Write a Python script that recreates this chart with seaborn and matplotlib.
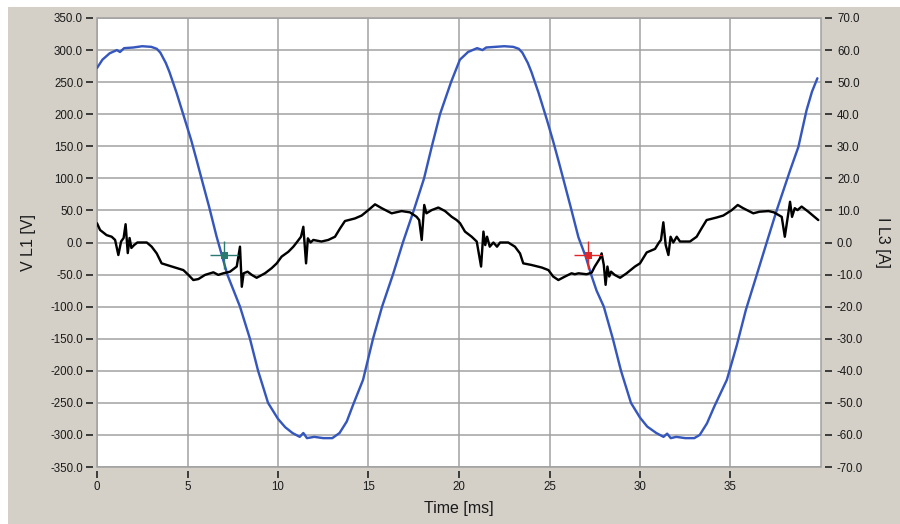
import numpy as np
import pandas as pd
import matplotlib
matplotlib.use("Agg")
import matplotlib.pyplot as plt
import seaborn as sns
from matplotlib.patches import Rectangle
from matplotlib.ticker import FormatStrFormatter

# Voltage L1 [V] versus time [ms]
volt_time = [0, 0.3, 0.7, 1.1, 1.27, 1.5, 2.0, 2.5, 3.0, 3.3, 3.5, 3.8, 4.0, 4.4, 4.86,
             5.2, 5.5, 5.8, 6.2, 6.6, 6.9, 7.2, 7.55, 7.9, 8.45, 8.9, 9.45, 10.0, 10.4,
             10.8, 11.2, 11.4, 11.6, 12.0, 12.5, 13.0, 13.4, 13.8, 14.15, 14.7, 15.25,
             15.75, 16.35, 16.9, 17.5, 18.07, 18.5, 18.95, 19.56, 20.05, 20.5, 21.0,
             21.3, 21.5, 22.0, 22.5, 23.0, 23.3, 23.5, 23.8, 24.0, 24.4, 24.86, 25.2,
             25.5, 25.8, 26.2, 26.6, 27.0, 27.3, 27.6, 28.0, 28.5, 28.95, 29.5, 30.0,
             30.4, 30.9, 31.3, 31.5, 31.7, 32.0, 32.5, 33.0, 33.3, 33.7, 34.1, 34.8,
             35.35, 35.85, 36.4, 37.0, 37.55, 38.3, 38.75, 39.2, 39.5, 39.8]
volt_val = [272, 285, 295, 300, 297, 303, 304, 306, 305, 302, 296, 280, 266, 233, 191,
            160, 129, 97, 55, 10, -20, -50, -75, -100, -150, -200, -250, -275, -288,
            -297, -303, -297, -305, -303, -305, -305, -297, -279, -253, -214, -150,
            -100, -50, 0, 50, 100, 150, 200, 250, 285, 297, 303,
            300, 304, 305, 306, 305, 302, 296, 280, 266, 233, 191, 158,
            127, 95, 52, 8, -22, -50, -75, -100, -150, -200, -250, -273,
            -287, -297, -303, -298, -305, -303, -305, -305, -300, -282, -256, -214,
            -160, -105, -55, 0, 50, 113, 149, 206, 235, 256]

# Current L3 [A] versus time [ms]
curr_time = [0, 0.17, 0.53, 0.81, 1.0, 1.18, 1.33, 1.47, 1.58, 1.7, 1.8, 1.9, 2.05, 2.23,
             2.75, 3.02, 3.3, 3.57, 3.85, 4.31, 4.77, 5.05, 5.32, 5.6, 5.97, 6.43, 6.7,
             6.98, 7.35, 7.72, 7.9, 8.0, 8.1, 8.32, 8.55, 8.82, 9.28, 9.65, 9.93, 10.2,
             10.57, 10.85, 11.03, 11.27, 11.4, 11.55, 11.65, 11.8, 11.95, 12.4, 12.78,
             13.15, 13.43, 13.7, 14.25, 14.62, 14.99, 15.36, 15.73, 16.28, 16.83, 17.29,
             17.66, 17.8, 17.94, 18.08, 18.2, 18.49, 18.86, 19.23, 19.6, 19.87, 20.06,
             20.33, 20.7, 20.98, 21.22, 21.35, 21.45, 21.55, 21.7, 21.9, 22.1, 22.27,
             22.72, 23.09, 23.37, 23.55, 24.0, 24.57, 24.94, 25.2, 25.49, 25.86, 26.22,
             26.4, 26.6, 27.05, 27.33, 27.5, 27.79, 27.88, 28.0, 28.1, 28.2, 28.3, 28.4,
             28.6, 28.9, 29.26, 29.72, 30.0, 30.37, 30.83, 31.05, 31.16, 31.29, 31.42,
             31.57, 31.69, 31.84, 32.03, 32.21, 32.76, 33.13, 33.4, 33.68, 34.24, 34.6,
             35.07, 35.4, 35.7, 36.26, 36.6, 37.1, 37.4, 37.83, 38.0, 38.15, 38.29, 38.4,
             38.55, 38.7, 38.93, 39.3, 39.85]
curr_val = [6.0, 3.9, 2.3, 1.8, 0.8, -3.9, 0.3, 1.4, 5.7, -3.3, 1.4, -1.7, -0.8, 0.0,
            0.0, -1.3, -3.4, -6.5, -7.0, -7.8, -8.6, -10.1, -11.7, -11.4, -10.1, -9.3, -10.1,
            -9.6, -9.1, -7.5, -1.3, -13.8, -9.6, -9.1, -10.1, -11.0, -9.6, -8.0, -6.5, -4.4,
            -2.9, -1.3, 0.0, 1.8, 4.9, -6.5, 1.3, 0.0, 0.8, 0.3, 0.8,
            1.8, 4.4, 6.7, 7.5, 8.4, 10.1, 11.9, 10.7, 9.1, 9.8, 9.4,
            8.0, 7.0, 0.8, 11.7, 9.1, 10.1, 10.9, 9.8, 8.0, 7.0, 6.0,
            3.4, 1.8, 0.3, -7.5, 3.4, -0.8, 1.8, -1.3, 0.0, -1.3, 0.0,
            0.0, -1.3, -3.4, -6.5, -7.0, -7.8, -8.6, -10.6, -11.7, -10.6, -9.6,
            -9.9, -9.6, -9.9, -9.4, -7.5, -4.9, -3.4, -7.0, -13.2, -7.5, -10.6, -9.1,
            -10.1, -11.0, -9.6, -7.5, -6.5, -3.1, -2.0, 0.0, 0.8, 6.3, -0.8,
            -3.9, 1.8, 0.0, 1.8, 0.3, 0.3, 1.8, 4.4, 7.0, 7.8, 8.4,
            10.1, 11.7, 10.7, 9.1, 9.6, 9.8, 9.4, 8.0, 1.8, 7.5, 12.7, 8.0,
            10.7, 10.1, 11.2, 9.6, 7.0]

# Cursor positions (time [ms], voltage [V])
cursor_time = [7.0, 27.1]
cursor_volt = [-20, -20]
cursor_colors = ["#2b7a72", "#e02828"]

x_ticks = [0, 5, 10, 15, 20, 25, 30, 35]
v_ticks = list(range(-350, 351, 50))
i_ticks = list(range(-70, 71, 10))

volt_df = pd.DataFrame({"Time [ms]": volt_time, "V L1 [V]": volt_val})
curr_df = pd.DataFrame({"Time [ms]": curr_time, "I L3 [A]": curr_val})

sns.set_theme(style="white")
plt.rcParams["font.family"] = ["Liberation Sans", "DejaVu Sans"]

W, H = 900, 524
fig = plt.figure(figsize=(W / 100, H / 100), dpi=100, facecolor="white")
fig.patches.append(Rectangle((8 / W, 0), 1 - 8 / W, 1 - 7 / H, transform=fig.transFigure,
                             facecolor="#d4d0c8", edgecolor="none", zorder=-10))

left, right, top, bottom = 97, 821, 18, 467
ax = fig.add_axes([left / W, 1 - bottom / H, (right - left) / W, (bottom - top) / H])
ax.set_facecolor("white")

grid_c = "#a0a0a0"
tick_c = "#1a1a1a"
px = 72 / 100  # one pixel in points

sns.lineplot(data=volt_df, x="Time [ms]", y="V L1 [V]", ax=ax, color="#3557bd",
             linewidth=2.4 * px, estimator=None, sort=False, legend=False, zorder=3)

ax.set_xlim(0, 40)
ax.set_ylim(-350, 350)
ax.set_xticks(x_ticks)
ax.set_yticks(v_ticks)
ax.yaxis.set_major_formatter(FormatStrFormatter("%.1f"))
ax.grid(True, color=grid_c, linewidth=1.5 * px)
ax.set_axisbelow(True)
for s in ax.spines.values():
    s.set_visible(False)
ax.spines["left"].set_position(("outward", 4 * px))
ax.spines["bottom"].set_position(("outward", 4 * px))
ax.tick_params(axis="both", direction="out", length=7 * px, width=1.6 * px,
               color=tick_c, labelcolor=tick_c, labelsize=8.3, pad=3 * px)
ax.tick_params(axis="y", left=True, right=False)
ax.tick_params(axis="x", bottom=True, top=False)

ax.add_patch(Rectangle((0, 0), 1, 1, transform=ax.transAxes, fill=False,
                       edgecolor=grid_c, linewidth=1.5 * px, clip_on=False, zorder=2))

ax.set_xlabel("Time [ms]", fontsize=11.5, color=tick_c, va="center")
ax.xaxis.set_label_coords(0.5, (bottom - 509) / (bottom - top))
ax.set_ylabel("V L1 [V]", fontsize=11.5, color=tick_c, va="center")
ax.yaxis.set_label_coords((28 - left) / (right - left), 0.5)

ax2 = ax.twinx()
ax2.set_facecolor("none")
sns.lineplot(data=curr_df, x="Time [ms]", y="I L3 [A]", ax=ax2, color="black",
             linewidth=2.4 * px, estimator=None, sort=False, legend=False, zorder=3)
ax2.set_xlim(0, 40)
ax2.set_ylim(-70, 70)
ax2.set_yticks(i_ticks)
ax2.yaxis.set_major_formatter(FormatStrFormatter("%.1f"))
ax2.grid(False)
for s in ax2.spines.values():
    s.set_visible(False)
ax2.spines["right"].set_position(("outward", 4 * px))
ax2.tick_params(axis="y", direction="out", length=7 * px, width=1.6 * px, right=True,
                left=False, color=tick_c, labelcolor=tick_c, labelsize=8.3, pad=5 * px)
ax2.set_ylabel("I L3 [A]", fontsize=11.5, color=tick_c, rotation=270, va="center")
ax2.yaxis.set_label_coords((883 - left) / (right - left), 0.5)

# Cursor crosshairs on the voltage scale (1 A on the right axis = 5 V on the left)
for t, v, c in zip(cursor_time, cursor_volt, cursor_colors):
    ax2.plot([t], [v / 5], marker="+", markersize=28 * px, markeredgewidth=1.4 * px,
             color=c, zorder=5)
    ax2.plot([t], [v / 5], marker="s", markersize=7 * px, color=c, zorder=6,
             markeredgewidth=0)

fig.savefig("out.png", dpi=100, facecolor=fig.get_facecolor())
